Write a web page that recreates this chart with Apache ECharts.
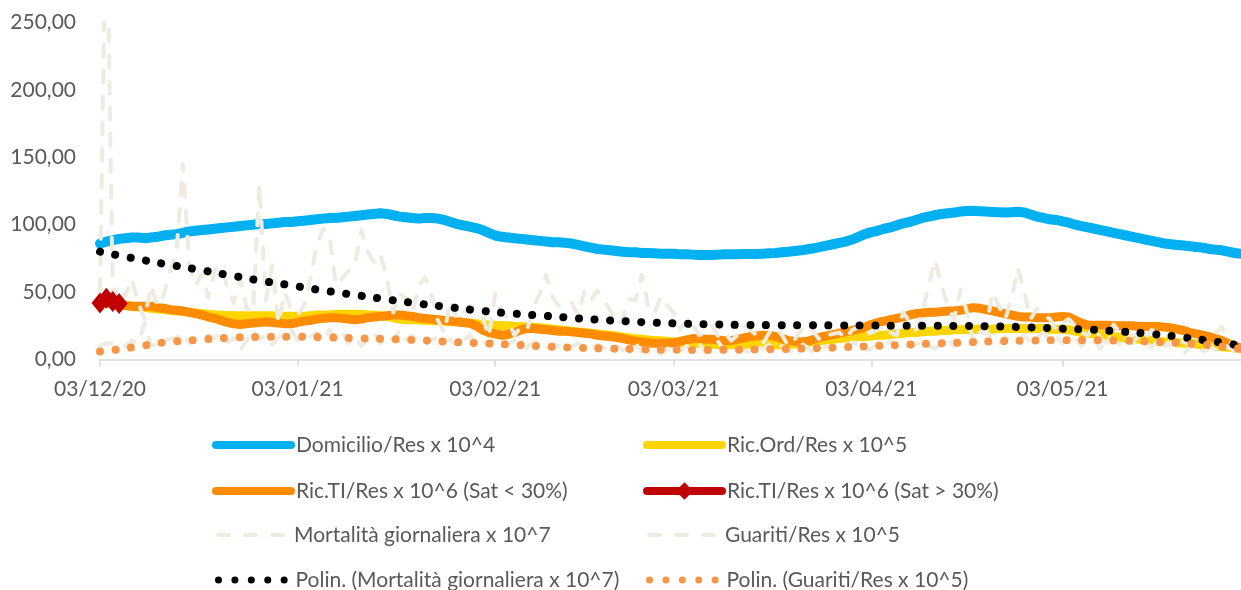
<!DOCTYPE html>
<html>
<head>
<meta charset="utf-8">
<script src="https://cdn.jsdelivr.net/npm/echarts@6/dist/echarts.min.js"></script>
<style>
  html, body { margin: 0; padding: 0; background: #ffffff; }
  #chart { width: 1241px; height: 590px; }
</style>
</head>
<body>
<div id="chart"></div>
<script>
// Daily indicators, 03/12/2020 (day 0) to 31/05/2021 (day 179)

const TICK_DAYS = [0, 31, 62, 90, 121, 151];
const TICK_LABELS = ['03/12/20', '03/01/21', '03/02/21', '03/03/21', '03/04/21', '03/05/21'];
const Y_TICKS = [0, 50, 100, 150, 200, 250];

const NAMES = [
  'Domicilio/Res x 10^4',
  'Ric.Ord/Res x 10^5',
  'Ric.TI/Res x 10^6 (Sat < 30%)',
  'Ric.TI/Res x 10^6 (Sat > 30%)',
  'Mortalità giornaliera x 10^7',
  'Guariti/Res x 10^5',
  'Polin. (Mortalità giornaliera x 10^7)',
  'Polin. (Guariti/Res x 10^5)'
];

const DOMICILIO = [
  86, 87.5, 88.5, 89.5, 90, 90.5, 90.5, 90, 90.5, 91,
  92, 92.5, 93, 94, 95, 95.5, 96, 96.5, 97, 97.5,
  98, 98.5, 99, 99.5, 100, 100.5, 100.5, 101, 101.5, 102,
  102, 102.5, 103, 103.5, 104, 104.5, 105, 105, 105.5, 106,
  106.5, 107, 107.5, 108, 108.5, 108, 107, 106, 105.5, 105,
  104.5, 105, 105, 104.5, 103.5, 102, 100.5, 99.5, 98.5, 97.5,
  96, 94, 92, 91, 90.5, 90, 89.5, 89, 88.5, 88,
  87.5, 87, 87, 86.5, 86, 85, 84, 83, 82, 81.5,
  81, 80.5, 80, 79.5, 79.5, 79, 79, 78.8, 78.5, 78.5,
  78.5, 78, 78, 77.8, 77.5, 77.5, 77.5, 77.8, 78, 78,
  78, 78.2, 78.3, 78.3, 78.5, 78.8, 79, 79.5, 80, 80.5,
  81, 81.8, 82.5, 83.5, 84.5, 85.5, 86.5, 87.5, 89, 91,
  93, 94.5, 95.5, 97, 98, 99.5, 101, 102, 103.5, 105,
  106, 107, 108, 108.5, 109, 109.8, 110.2, 110.3, 110, 109.8,
  109.5, 109.2, 109, 109.3, 109.6, 109, 107.5, 106, 105, 104,
  103.5, 102.5, 101.5, 100, 99, 98, 97, 96, 95, 94,
  93, 92, 91, 90, 89, 88, 87, 86, 85.5, 85,
  84.5, 84, 83.5, 83, 82, 81.5, 81, 80, 79, 78.5
];

const RIC_ORD = [
  42, 41.5, 41, 40.5, 40, 39.5, 39, 38.5, 38, 37.5,
  37, 36.5, 36, 35.5, 35, 34.5, 34, 33.5, 33, 33,
  32.5, 32.5, 32.5, 32.5, 32.5, 32.5, 32.5, 32.5, 32, 32,
  32, 32, 32, 32.5, 33, 33, 33, 33.5, 33.5, 33.5,
  33.5, 33.5, 33, 33, 32.5, 32, 31, 30, 29.5, 29.5,
  29.5, 29, 29, 28.5, 28.5, 28, 28, 27.5, 27, 26.5,
  26, 25.5, 25.5, 25, 25, 24.5, 24.5, 24, 24, 23.5,
  23, 22.5, 22, 21.5, 21, 20.5, 20, 19.5, 19, 18.5,
  18, 17.5, 16.5, 16, 15.5, 15, 14.5, 14, 14, 13.5,
  13, 12.5, 12.5, 12, 12, 11.5, 11.5, 11, 11, 11,
  11, 11, 11.5, 11.5, 11.5, 11.5, 11, 11, 11, 11.5,
  12, 12.5, 13.5, 14, 14.5, 15, 15.5, 16, 16.5, 17,
  17, 17.5, 18, 18, 18.5, 19, 19.5, 20, 20, 20.5,
  21, 21, 21.5, 21.5, 22, 22, 22.5, 22.5, 22.5, 22.5,
  22.5, 23, 23, 23, 23, 23, 23, 23, 23, 22.5,
  22.5, 22.5, 22, 21, 20, 19.5, 19, 18.5, 18, 17,
  16.5, 16, 15.5, 15, 14.5, 14, 13.5, 13, 13, 12.5,
  12, 12, 11.5, 11, 10.5, 10, 9.5, 9, 8.5, 8
];

// Intensive care, saturation above 30% (days 0-3)
const RIC_TI_HIGH = [42, 45.5, 43, 41.5];

// Intensive care, saturation below 30% (from day 3)
const RIC_TI_LOW_FIRST_DAY = 3;
const RIC_TI_LOW = [
  41, 40, 39.5, 39.5, 39.5, 39.5, 38.5,
  38, 37, 36.5, 36, 35, 34, 33, 31.5, 30.5, 29,
  27.5, 26.5, 26, 26.5, 27, 27.5, 28, 27.5, 27, 26.5,
  26.5, 27.5, 28.5, 29, 30, 30.5, 31, 31, 30.5, 30,
  29.5, 30, 31, 31.5, 32, 32.5, 33, 33, 32.5, 32,
  31, 30.5, 30, 29.5, 29, 28.5, 28, 27.5, 27, 25,
  22, 20, 19, 18, 18.5, 20, 22, 23, 23, 22.5,
  22, 21.5, 21, 21, 20.5, 20, 19.5, 19, 18, 17.5,
  17, 16.5, 15.5, 14.5, 13.5, 13, 12.5, 12, 12, 12,
  12.5, 13.5, 14.5, 15.5, 15.5, 15, 15, 14.5, 14, 14,
  15, 16, 17, 17.5, 18, 18, 17, 15.5, 14, 13.5,
  13, 13.5, 15, 16.5, 17.5, 18.5, 19.5, 20.5, 21.5, 22.5,
  24, 26, 27.5, 28.5, 29.5, 30.5, 31.5, 33, 34, 34.5,
  35, 35, 35.5, 36, 36, 36.5, 37.5, 38.5, 38, 37,
  36, 35, 34, 33, 32, 31.5, 31.5, 31, 31, 31,
  31.5, 32, 31.5, 29, 27, 25.5, 25.5, 25.5, 25.5, 25,
  25, 25, 25, 24.5, 24.5, 24.5, 24.5, 24, 23.5, 22.5,
  21.5, 20, 19, 18, 17, 15.5, 14, 12, 10, 8.5
];

const MORTALITA = [
  51, 360, 48, 55, 47, 60, 42, 30, 55, 40,
  48, 66, 80, 145, 70, 55, 63, 46, 66, 70,
  53, 42, 60, 38, 35, 130, 44, 70, 27, 50,
  37, 33, 40, 60, 85, 97, 92, 55, 60, 66,
  70, 96, 80, 72, 78, 60, 35, 49, 45, 35,
  55, 61, 48, 29, 20, 44, 30, 35, 40, 38,
  32, 17, 49, 37, 30, 18, 24, 22, 39, 49,
  63, 46, 40, 43, 42, 33, 51, 44, 51, 44,
  37, 26, 30, 45, 44, 63, 40, 34, 47, 40,
  35, 22, 30, 26, 18, 20, 25, 17, 20, 14,
  18, 25, 22, 18, 12, 20, 24, 18, 10, 15,
  22, 26, 20, 14, 18, 19, 20, 15, 22, 24,
  18, 20, 22, 25, 20, 18, 35, 28, 22, 35,
  55, 74, 55, 40, 30, 52, 35, 12, 20, 22,
  50, 40, 30, 45, 68, 50, 30, 38, 33, 30,
  22, 27, 30, 25, 20, 18, 25, 15, 12, 26,
  20, 15, 18, 20, 16, 22, 18, 10, 12, 8,
  14, 10, 12, 6, 8, 20, 24, 14, 10, 8
];

const GUARITI = [
  10, 12, 12, 12, 10, 14, 12, 27, 10, 12,
  14, 15, 16, 20, 12, 16, 14, 18, 16, 20,
  13, 16, 7, 14, 22, 15, 18, 11, 16, 20,
  22, 14, 18, 17, 20, 14, 22, 16, 20, 12,
  17, 10, 14, 20, 12, 18, 14, 22, 15, 18,
  12, 16, 14, 17, 12, 15, 10, 14, 18, 12,
  14, 10, 16, 12, 11, 14, 10, 9, 13, 12,
  8, 11, 10, 7, 10, 12, 9, 8, 11, 9,
  6, 10, 7, 8, 12, 6, 5, 7, 4, 8,
  9, 6, 10, 7, 12, 5, 8, 13, 6, 4,
  8, 7, 5, 9, 8, 11, 7, 10, 6, 8,
  12, 9, 5, 7, 10, 8, 12, 9, 13, 10,
  6, 8, 12, 9, 14, 10, 7, 12, 11, 14,
  10, 8, 12, 15, 10, 13, 9, 16, 12, 22,
  14, 11, 17, 13, 15, 18, 12, 16, 20, 14,
  17, 12, 18, 15, 10, 16, 13, 8, 17, 14,
  11, 15, 12, 18, 13, 9, 14, 16, 10, 12,
  4, 9, 12, 8, 10, 7, 12, 9, 6, 8
];

// Polynomial trend lines, [day, value]
const TREND_MORTALITA = [
  [0, 80], [5, 75.3], [10, 71], [15, 67], [20, 62.8], [25, 58.6], [30, 55],
  [35, 51.2], [40, 47.9], [45, 44.6], [50, 41.5], [55, 38.7], [60, 36],
  [65, 34], [70, 32.3], [75, 30.5], [80, 29], [85, 27.7], [90, 26.8],
  [95, 26.2], [100, 25.7], [105, 25.5], [110, 25.5], [115, 25.3], [120, 25.2],
  [125, 25.1], [130, 25], [135, 24.9], [140, 24.6], [145, 24], [150, 23],
  [155, 22.2], [160, 20.8], [165, 18.9], [170, 16.4], [175, 13.2], [179, 10.3]
];

const TREND_GUARITI = [
  [0, 6], [3, 7.5], [5, 9], [8, 11.2], [10, 12.6], [13, 13.8], [15, 14.5],
  [18, 15.5], [20, 16.1], [25, 16.8], [30, 16.9], [35, 16.5], [40, 15.8],
  [45, 15.2], [50, 14.3], [55, 13], [60, 12], [65, 11], [70, 9.6], [75, 8.7],
  [80, 8.1], [85, 7.6], [90, 7.2], [95, 7.1], [100, 7.3], [105, 7.6], [110, 8.1],
  [115, 8.8], [120, 9.7], [125, 10.7], [130, 11.7], [135, 12.5], [140, 13.4],
  [145, 14], [150, 14.2], [155, 14.2], [160, 14], [165, 13.2], [170, 12],
  [175, 10.1], [179, 7.8]
];

const COLORS = {
  domicilio: '#00B0F0',
  ricOrd: '#FFD500',
  ricTiLow: '#FF8C00',
  ricTiHigh: '#C00000',
  daily: '#EEECE1',
  trendMort: '#000000',
  trendGuar: '#F79646'
};

const FONT = 'Lato, "Open Sans", sans-serif';
const TEXT_COLOR = '#595959';

const toPoints = (arr, firstDay) => arr.map((v, i) => [i + (firstDay || 0), v]);
const fmtComma = v => v.toFixed(2).replace('.', ',');

const DOTS = [0.01, 15.6];
const DASHES = [12, 14];

function solidLine(name, data, color, width, extra) {
  return Object.assign({
    name: name, type: 'line', data: data, symbol: 'none', showSymbol: false,
    smooth: false, animation: false, clip: true,
    itemStyle: { color: color },
    lineStyle: { color: color, width: width, cap: 'round', join: 'round' }
  }, extra || {});
}

const series = [
  solidLine(NAMES[0], toPoints(DOMICILIO), COLORS.domicilio, 10),
  solidLine(NAMES[1], toPoints(RIC_ORD), COLORS.ricOrd, 9),
  solidLine(NAMES[2], toPoints(RIC_TI_LOW, RIC_TI_LOW_FIRST_DAY), COLORS.ricTiLow, 9),
  {
    name: NAMES[3], type: 'line', data: toPoints(RIC_TI_HIGH), animation: false,
    symbol: 'diamond', symbolSize: [17, 21], showSymbol: true,
    itemStyle: { color: COLORS.ricTiHigh },
    lineStyle: { color: COLORS.ricTiHigh, width: 9, cap: 'round', join: 'round' }
  },
  solidLine(NAMES[4], toPoints(MORTALITA), COLORS.daily, 4, {
    lineStyle: { color: COLORS.daily, width: 4, type: DASHES, cap: 'round', join: 'round' }
  }),
  solidLine(NAMES[5], toPoints(GUARITI), COLORS.daily, 4, {
    lineStyle: { color: COLORS.daily, width: 4, type: DASHES, cap: 'round', join: 'round' }
  }),
  solidLine(NAMES[6], TREND_MORTALITA, COLORS.trendMort, 8, {
    smooth: 0.4,
    lineStyle: { color: COLORS.trendMort, width: 8, type: DOTS, cap: 'round' }
  }),
  solidLine(NAMES[7], TREND_GUARITI, COLORS.trendGuar, 8, {
    smooth: 0.4,
    lineStyle: { color: COLORS.trendGuar, width: 8, type: DOTS, cap: 'round' }
  })
];

// Legend: two columns, four rows
const ROW_TOP = [433, 479, 523, 568];
const COL_TEXT_X = [292, 723];
const LEGEND_LINES = [
  { width: 8, type: 'solid', itemWidth: 75 },
  { width: 8, type: 'solid', itemWidth: 75 },
  { width: 8, type: 'solid', itemWidth: 75 },
  { width: 8, type: 'solid', itemWidth: 75, marker: true },
  { width: 4, type: [11, 16], itemWidth: 71 },
  { width: 4, type: [11, 16], itemWidth: 71 },
  { width: 7, type: [0.01, 16.4], itemWidth: 72 },
  { width: 7, type: [0.01, 16.4], itemWidth: 72 }
];

const legends = NAMES.map((name, i) => {
  const cfg = LEGEND_LINES[i];
  const col = i % 2, row = Math.floor(i / 2);
  const h = cfg.marker ? 22 : 14;
  return {
    data: [name],
    left: COL_TEXT_X[col] - 5 - cfg.itemWidth,
    top: ROW_TOP[row] + (24 - Math.max(h, 24)) / 2,
    padding: 0,
    itemWidth: cfg.itemWidth,
    itemHeight: h,
    selectedMode: false,
    itemStyle: { opacity: cfg.marker ? 1 : 0 },
    lineStyle: { width: cfg.width, type: cfg.type, cap: 'round' },
    textStyle: { fontFamily: FONT, fontSize: 21, color: TEXT_COLOR, lineHeight: 24 }
  };
});

const chart = echarts.init(document.getElementById('chart'), null, { renderer: 'canvas' });
chart.setOption({
  backgroundColor: '#ffffff',
  animation: false,
  grid: { left: 100, right: 0, top: 22.5, bottom: 230.5, containLabel: false },
  xAxis: {
    type: 'value', min: TICK_DAYS[0], max: 179,
    splitLine: { show: false },
    axisLine: { show: true, lineStyle: { color: '#D9D9D9', width: 1.5 } },
    axisTick: { show: true, customValues: TICK_DAYS, length: 7, lineStyle: { color: '#D9D9D9', width: 1.5 } },
    axisLabel: {
      customValues: TICK_DAYS, margin: 19,
      fontFamily: FONT, fontSize: 21, color: TEXT_COLOR,
      formatter: v => TICK_LABELS[TICK_DAYS.indexOf(v)] || ''
    }
  },
  yAxis: {
    type: 'value', min: Y_TICKS[0], max: Y_TICKS[Y_TICKS.length - 1], interval: 50,
    splitLine: { show: false },
    axisLine: { show: false },
    axisTick: { show: false },
    axisLabel: { margin: 24, fontFamily: FONT, fontSize: 21, color: TEXT_COLOR, formatter: v => fmtComma(v) }
  },
  legend: legends,
  series: series
});
</script>
</body>
</html>
